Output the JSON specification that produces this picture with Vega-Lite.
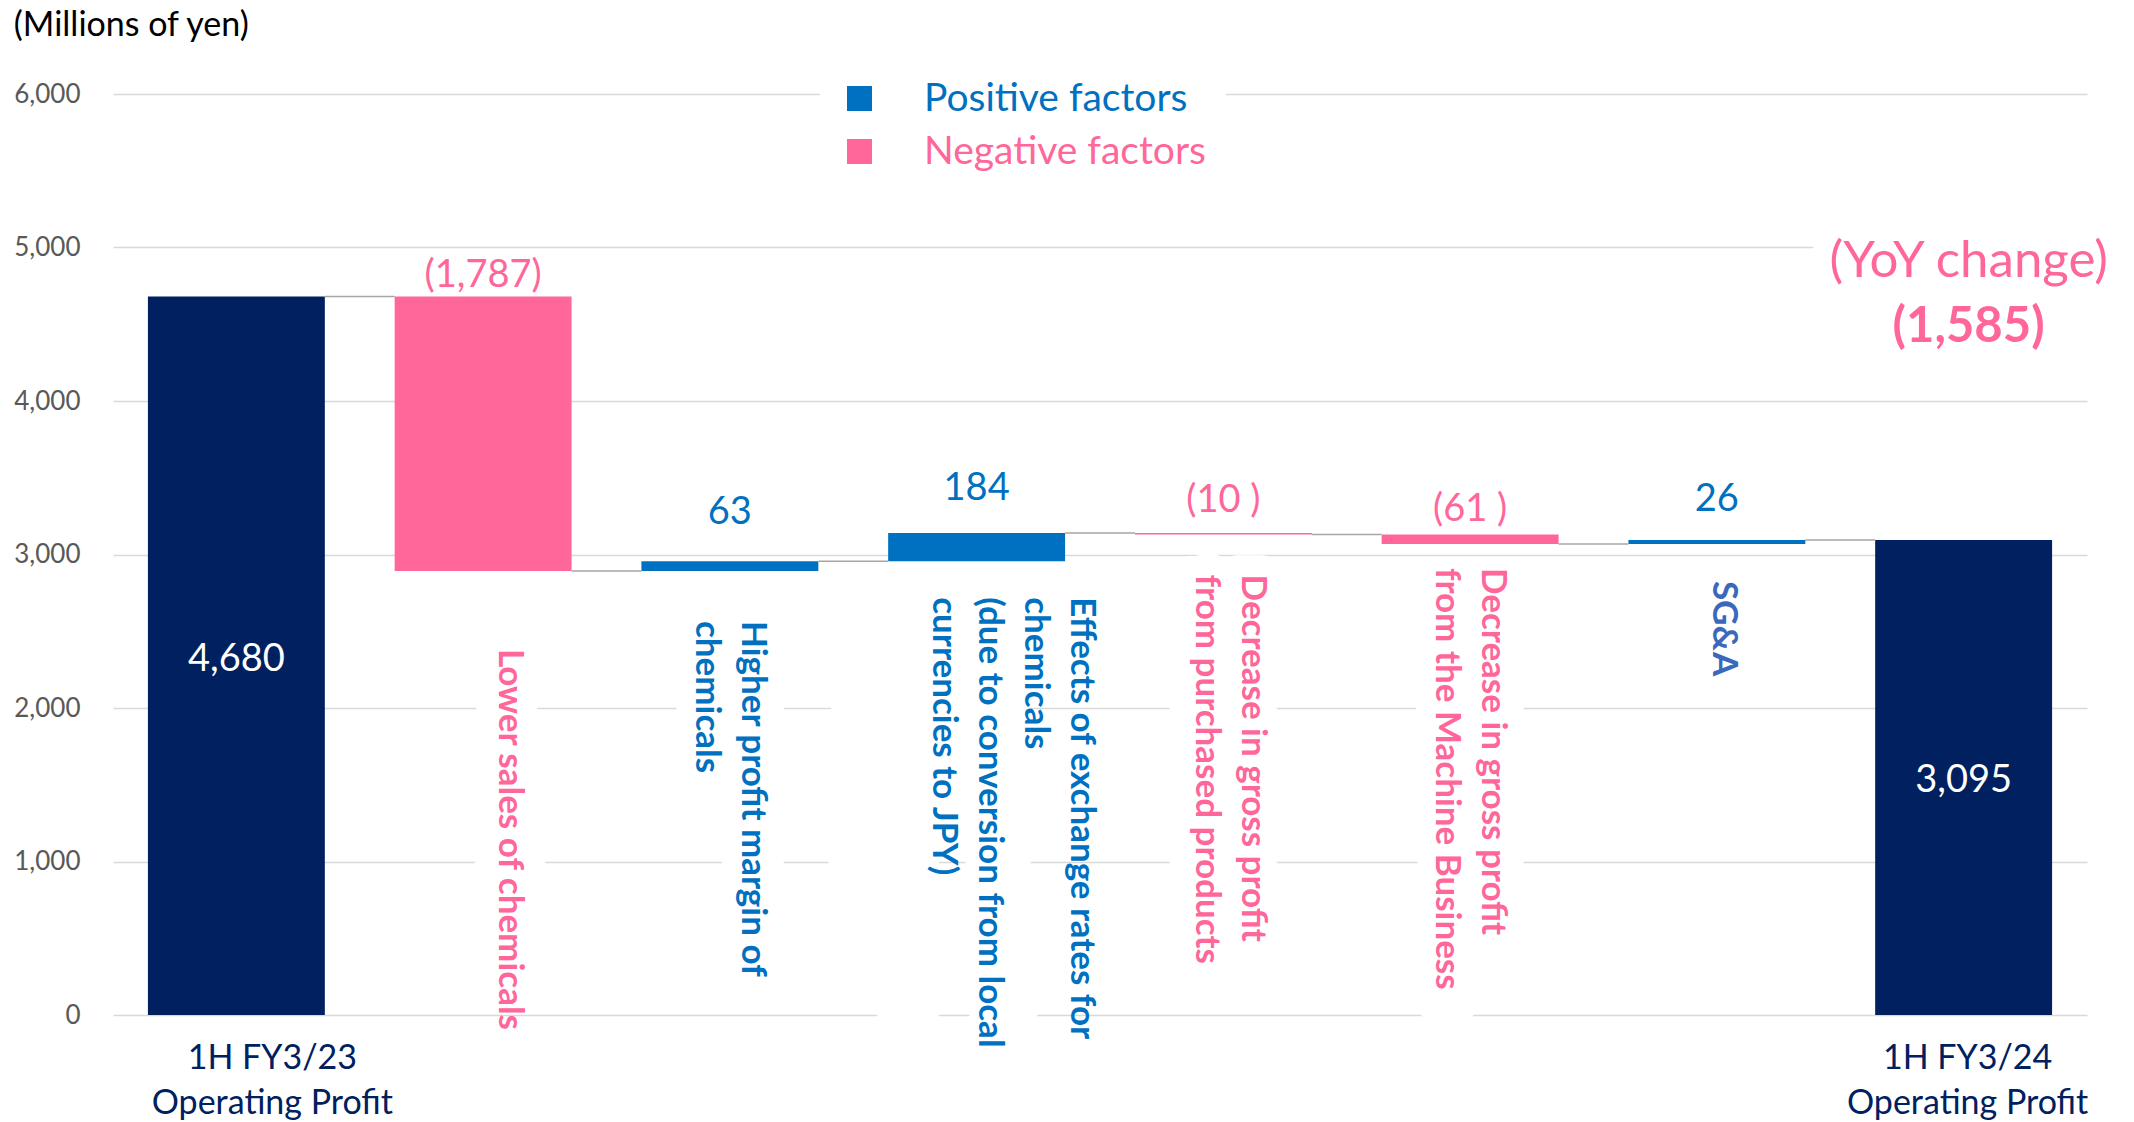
{
  "$schema": "https://vega.github.io/schema/vega-lite/v6.json",
  "width": 1974,
  "height": 921,
  "autosize": {"type": "none"},
  "padding": {"left": 113, "top": 94, "right": 47, "bottom": 107},
  "background": "white",
  "title": {"text": "(Millions of yen)", "anchor": "start", "frame": "bounds", "font": "Lato", "fontSize": 34, "fontWeight": "normal", "color": "#000000", "offset": 16},
  "config": {"view": {"stroke": null}, "font": "Lato"},
  "datasets": {
    "bars": [
      {"cat": "1H FY3/23 Operating Profit", "label": "", "type": "Total", "lo": 0, "hi": 4680, "val": "4,680"},
      {"cat": "Lower sales of chemicals", "label": "Lower sales of chemicals", "type": "Negative factors", "lo": 2893, "hi": 4680, "val": "(1,787)"},
      {"cat": "Higher profit margin of chemicals", "label": "Higher profit margin of\nchemicals", "type": "Positive factors", "lo": 2893, "hi": 2956, "val": "63"},
      {"cat": "Effects of exchange rates for chemicals", "label": "Effects of exchange rates for\nchemicals\n(due to conversion from local\ncurrencies to JPY)", "type": "Positive factors", "lo": 2956, "hi": 3140, "val": "184"},
      {"cat": "Decrease in gross profit from purchased products", "label": "Decrease in gross profit\nfrom purchased products", "type": "Negative factors", "lo": 3130, "hi": 3140, "val": "(10 )"},
      {"cat": "Decrease in gross profit from the Machine Business", "label": "Decrease in gross profit\nfrom the Machine Business", "type": "Negative factors", "lo": 3069, "hi": 3130, "val": "(61 )"},
      {"cat": "SG&A", "label": "SG&A", "type": "Positive factors", "lo": 3069, "hi": 3095, "val": "26"},
      {"cat": "1H FY3/24 Operating Profit", "label": "", "type": "Total", "lo": 0, "hi": 3095, "val": "3,095"}
    ],
    "links": [
      {"from": "1H FY3/23 Operating Profit", "to": "Lower sales of chemicals", "level": 4680},
      {"from": "Lower sales of chemicals", "to": "Higher profit margin of chemicals", "level": 2893},
      {"from": "Higher profit margin of chemicals", "to": "Effects of exchange rates for chemicals", "level": 2956},
      {"from": "Effects of exchange rates for chemicals", "to": "Decrease in gross profit from purchased products", "level": 3140},
      {"from": "Decrease in gross profit from purchased products", "to": "Decrease in gross profit from the Machine Business", "level": 3130},
      {"from": "Decrease in gross profit from the Machine Business", "to": "SG&A", "level": 3069},
      {"from": "SG&A", "to": "1H FY3/24 Operating Profit", "level": 3095}
    ]
  },
  "data": {"name": "bars"},
  "layer": [
    {
      "transform": [{"filter": "datum.type != 'Total'"}],
      "mark": {"type": "text", "font": "Lato", "fontSize": 35, "fontWeight": "bold", "angle": 90, "align": "left", "baseline": "middle", "dx": 40, "dy": -25, "lineHeight": 46, "lineBreak": "\n", "color": "white", "stroke": "white", "strokeWidth": 44, "strokeJoin": "round"},
      "encoding": {
        "x": {"field": "cat", "type": "nominal"},
        "y": {"field": "lo", "type": "quantitative"},
        "text": {"field": "label"}
      }
    },
    {
      "mark": {"type": "bar"},
      "encoding": {
        "x": {
          "field": "cat", "type": "nominal",
          "scale": {"domain": ["1H FY3/23 Operating Profit", "Lower sales of chemicals", "Higher profit margin of chemicals", "Effects of exchange rates for chemicals", "Decrease in gross profit from purchased products", "Decrease in gross profit from the Machine Business", "SG&A", "1H FY3/24 Operating Profit"], "paddingInner": 0.283, "paddingOuter": 0.1415},
          "axis": {"title": null, "domain": false, "ticks": false, "grid": false, "labelAngle": 0, "labelAlign": "center", "labelFont": "Lato", "labelFontSize": 34, "labelColor": "#002060", "labelLineHeight": 45, "labelPadding": 43, "labelLimit": 500, "labelOverlap": false,
            "labelOffset": {"condition": {"test": "datum.value == '1H FY3/23 Operating Profit'", "value": 36}, "value": 4},
            "labelExpr": "datum.value == '1H FY3/23 Operating Profit' ? ['1H FY3/23', 'Operating Profit'] : datum.value == '1H FY3/24 Operating Profit' ? ['1H FY3/24', 'Operating Profit'] : ''"}
        },
        "y": {
          "field": "lo", "type": "quantitative",
          "scale": {"domain": [0, 6000], "nice": false},
          "axis": {"title": null, "values": [0, 1000, 2000, 3000, 4000, 5000, 6000], "labelExpr": "format(datum.value, ',')", "domain": false, "ticks": false, "labelFont": "Lato", "labelFontSize": 26, "labelColor": "#595959", "labelPadding": 33, "gridColor": "#D9D9D9", "gridWidth": 1.5}
        },
        "y2": {"field": "hi"},
        "color": {
          "field": "type", "type": "nominal",
          "scale": {"domain": ["Positive factors", "Negative factors", "Total"], "range": ["#0070C0", "#FF6699", "#002060"]},
          "legend": {"values": ["Positive factors", "Negative factors"], "orient": "none", "legendX": 707, "legendY": -35, "title": null, "symbolType": "square", "symbolSize": 625, "symbolStrokeWidth": 0, "symbolOpacity": 1, "labelFont": "Lato", "labelFontSize": 39, "labelOffset": 45, "rowPadding": 13, "padding": 20, "fillColor": "white", "direction": "vertical", "labelLimit": 500,
            "encode": {"labels": {"update": {"fill": {"signal": "datum.value === 'Positive factors' ? '#0070C0' : '#FF6699'"}}}}}
        }
      }
    },
    {
      "data": {"name": "links"},
      "mark": {"type": "rule", "color": "#A6A6A6", "strokeWidth": 1.5},
      "encoding": {
        "x": {"field": "from", "type": "nominal", "bandPosition": 1},
        "x2": {"field": "to", "bandPosition": 0},
        "y": {"field": "level", "type": "quantitative"}
      }
    },
    {
      "transform": [{"filter": "datum.type == 'Total'"}, {"calculate": "(datum.lo + datum.hi) / 2", "as": "mid"}],
      "mark": {"type": "text", "font": "Lato", "fontSize": 38, "baseline": "middle", "dy": 4, "color": "#FFFFFF"},
      "encoding": {
        "x": {"field": "cat", "type": "nominal"},
        "y": {"field": "mid", "type": "quantitative"},
        "text": {"field": "val"}
      }
    },
    {
      "transform": [{"filter": "datum.cat == 'Lower sales of chemicals'"}],
      "encoding": {
        "x": {"field": "cat", "type": "nominal"},
        "color": {"field": "type", "type": "nominal", "legend": null}
      },
      "layer": [
        {"mark": {"type": "text", "font": "Lato", "fontSize": 38, "baseline": "alphabetic", "dy": -10},
         "encoding": {"y": {"field": "hi", "type": "quantitative"}, "text": {"field": "val"}}},
        {"mark": {"type": "text", "font": "Lato", "fontSize": 35, "fontWeight": "bold", "angle": 90, "align": "left", "baseline": "middle", "dx": 78, "dy": -27, "lineHeight": 46, "lineBreak": "\n"},
         "encoding": {"y": {"field": "lo", "type": "quantitative"}, "text": {"field": "label"}}}
      ]
    },
    {
      "transform": [{"filter": "datum.cat == 'Higher profit margin of chemicals'"}],
      "encoding": {
        "x": {"field": "cat", "type": "nominal"},
        "color": {"field": "type", "type": "nominal", "legend": null}
      },
      "layer": [
        {"mark": {"type": "text", "font": "Lato", "fontSize": 38, "baseline": "alphabetic", "dy": -37},
         "encoding": {"y": {"field": "hi", "type": "quantitative"}, "text": {"field": "val"}}},
        {"mark": {"type": "text", "font": "Lato", "fontSize": 35, "fontWeight": "bold", "angle": 90, "align": "left", "baseline": "middle", "dx": 50, "dy": -23, "lineHeight": 46, "lineBreak": "\n"},
         "encoding": {"y": {"field": "lo", "type": "quantitative"}, "text": {"field": "label"}}}
      ]
    },
    {
      "transform": [{"filter": "datum.cat == 'Effects of exchange rates for chemicals'"}],
      "encoding": {
        "x": {"field": "cat", "type": "nominal"},
        "color": {"field": "type", "type": "nominal", "legend": null}
      },
      "layer": [
        {"mark": {"type": "text", "font": "Lato", "fontSize": 38, "baseline": "alphabetic", "dy": -33},
         "encoding": {"y": {"field": "hi", "type": "quantitative"}, "text": {"field": "val"}}},
        {"mark": {"type": "text", "font": "Lato", "fontSize": 35, "fontWeight": "bold", "angle": 90, "align": "left", "baseline": "middle", "dx": 36, "dy": -105, "lineHeight": 46, "lineBreak": "\n"},
         "encoding": {"y": {"field": "lo", "type": "quantitative"}, "text": {"field": "label"}}}
      ]
    },
    {
      "transform": [{"filter": "datum.cat == 'Decrease in gross profit from purchased products'"}],
      "encoding": {
        "x": {"field": "cat", "type": "nominal"},
        "color": {"field": "type", "type": "nominal", "legend": null}
      },
      "layer": [
        {"mark": {"type": "text", "font": "Lato", "fontSize": 38, "baseline": "alphabetic", "dy": -21},
         "encoding": {"y": {"field": "hi", "type": "quantitative"}, "text": {"field": "val"}}},
        {"mark": {"type": "text", "font": "Lato", "fontSize": 35, "fontWeight": "bold", "angle": 90, "align": "left", "baseline": "middle", "dx": 40, "dy": -30, "lineHeight": 46, "lineBreak": "\n"},
         "encoding": {"y": {"field": "lo", "type": "quantitative"}, "text": {"field": "label"}}}
      ]
    },
    {
      "transform": [{"filter": "datum.cat == 'Decrease in gross profit from the Machine Business'"}],
      "encoding": {
        "x": {"field": "cat", "type": "nominal"},
        "color": {"field": "type", "type": "nominal", "legend": null}
      },
      "layer": [
        {"mark": {"type": "text", "font": "Lato", "fontSize": 38, "baseline": "alphabetic", "dy": -14},
         "encoding": {"y": {"field": "hi", "type": "quantitative"}, "text": {"field": "val"}}},
        {"mark": {"type": "text", "font": "Lato", "fontSize": 35, "fontWeight": "bold", "angle": 90, "align": "left", "baseline": "middle", "dx": 24, "dy": -23, "lineHeight": 46, "lineBreak": "\n"},
         "encoding": {"y": {"field": "lo", "type": "quantitative"}, "text": {"field": "label"}}}
      ]
    },
    {
      "transform": [{"filter": "datum.cat == 'SG&A'"}],
      "encoding": {
        "x": {"field": "cat", "type": "nominal"}
      },
      "layer": [
        {"mark": {"type": "text", "font": "Lato", "fontSize": 38, "baseline": "alphabetic", "dy": -29, "color": "#0070C0"},
         "encoding": {"y": {"field": "hi", "type": "quantitative"}, "text": {"field": "val"}}},
        {"mark": {"type": "text", "font": "Lato", "fontSize": 35, "fontWeight": "bold", "angle": 90, "align": "left", "baseline": "middle", "dx": 37, "dy": -7, "lineHeight": 46, "lineBreak": "\n", "color": "#3A68BC"},
         "encoding": {"y": {"field": "lo", "type": "quantitative"}, "text": {"field": "label"}}}
      ]
    },
    {
      "data": {"values": [{"note": "(YoY change)"}]},
      "mark": {"type": "text", "font": "Lato", "fontSize": 51, "baseline": "middle", "dx": 5, "color": "#FF6699", "stroke": "white", "strokeWidth": 40, "strokeJoin": "round"},
      "encoding": {
        "x": {"datum": "1H FY3/24 Operating Profit", "type": "nominal"},
        "y": {"datum": 4906, "type": "quantitative"},
        "text": {"field": "note"}
      }
    },
    {
      "data": {"values": [{"note": "(YoY change)"}]},
      "mark": {"type": "text", "font": "Lato", "fontSize": 51, "baseline": "middle", "dx": 5, "color": "#FF6699"},
      "encoding": {
        "x": {"datum": "1H FY3/24 Operating Profit", "type": "nominal"},
        "y": {"datum": 4906, "type": "quantitative"},
        "text": {"field": "note"}
      }
    },
    {
      "data": {"values": [{"note": "(1,585)"}]},
      "mark": {"type": "text", "font": "Lato", "fontSize": 49, "fontWeight": "bold", "baseline": "middle", "dx": 5, "color": "#FF6699"},
      "encoding": {
        "x": {"datum": "1H FY3/24 Operating Profit", "type": "nominal"},
        "y": {"datum": 4482, "type": "quantitative"},
        "text": {"field": "note"}
      }
    }
  ]
}
